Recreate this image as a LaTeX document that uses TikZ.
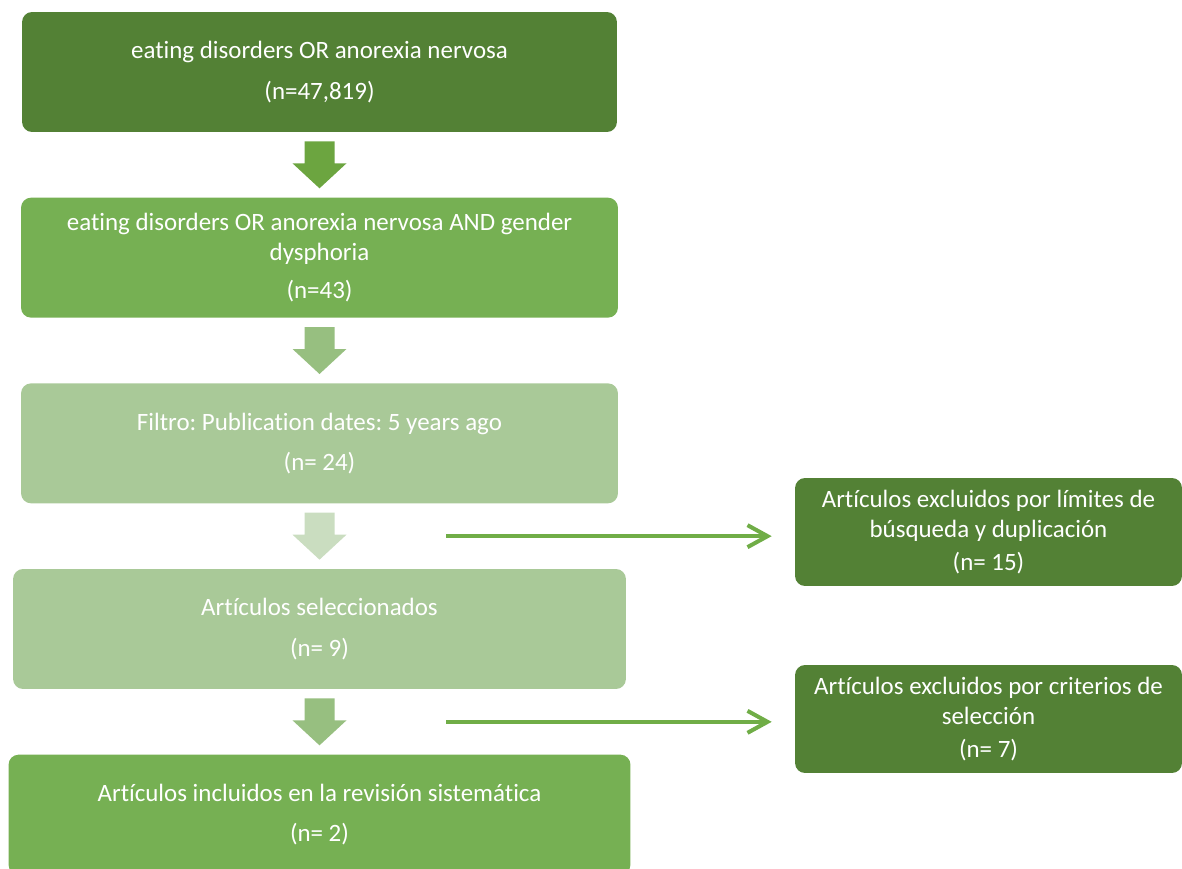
\documentclass[tikz,border=0pt]{standalone}
\usepackage{fontspec}
\setmainfont[Ligatures=NoCommon]{Carlito}
\usepackage{xcolor}
\usetikzlibrary{arrows.meta,positioning,calc}
\frenchspacing

\definecolor{darkgreen}{HTML}{538135}
\definecolor{midgreen}{HTML}{76B053}
\definecolor{palegreen}{HTML}{A9C998}
\definecolor{arrowA}{HTML}{6CA540}
\definecolor{arrowB}{HTML}{97BF80}
\definecolor{arrowC}{HTML}{CADDC0}
\definecolor{linegreen}{HTML}{70AD47}

\tikzset{
    blockarrow/.pic={
        \fill[pic actions] (-15,-23.5) -- (15,-23.5) -- (15,-1.5) -- (27,-1.5) -- (0,23.5) -- (-27,-1.5) -- (-15,-1.5) -- cycle;
    }
}

\begin{document}
\begin{tikzpicture}[
        x=0.02cm, y=-0.02cm,
        node distance=1.3cm,
        box/.style={rectangle, rounded corners=0.2cm, minimum height=2.4cm, text centered, align=center, text=white, font=\fontsize{14.2}{17}\selectfont},
        sidebox/.style={box, fill=darkgreen, minimum width=7.74cm, minimum height=2.16cm},
        arrow/.style={-{Straight Barb[length=4mm,width=4.4mm]}, line width=2.3pt, draw=linegreen, shorten >=0.46cm}
    ]
        \useasboundingbox (0,0) rectangle (1182,868);

        % Search steps
        \node[box, fill=darkgreen, minimum width=11.9cm] (search) at (319.5,72) {eating disorders OR anorexia nervosa\\[6pt](n=47,819)};
        \node[box, fill=midgreen, minimum width=11.94cm, below=of search] (gender) {eating disorders OR anorexia nervosa AND gender\\dysphoria\\[5pt](n=43)};
        \node[box, fill=palegreen, minimum width=11.94cm, below=of gender] (dates) {Filtro: Publication dates: 5 years ago\\[6pt](n= 24)};
        \node[box, fill=palegreen, minimum width=12.26cm, below=of dates] (selected) {Artículos seleccionados\\[6pt](n= 9)};
        \node[box, fill=midgreen, minimum width=12.44cm, below=of selected] (included) {Artículos incluidos en la revisión sistemática\\[6pt](n= 2)};

        % Excluded
        \node[sidebox] (limits) at (988.5,532) {Artículos excluidos por límites de\\búsqueda y duplicación\\[1.5pt](n= 15)};
        \node[sidebox] (criteria) at (988.5,719) {Artículos excluidos por criterios de\\selección\\[1.5pt](n= 7)};

        % Block arrows
        \coordinate (a1) at ($(search.south)!0.5!(gender.north)$);
        \coordinate (a2) at ($(gender.south)!0.5!(dates.north)$);
        \coordinate (a3) at ($(dates.south)!0.5!(selected.north)$);
        \coordinate (a4) at ($(selected.south)!0.5!(included.north)$);
        \pic[fill=arrowA] at (a1) {blockarrow};
        \pic[fill=arrowB] at (a2) {blockarrow};
        \pic[fill=arrowC] at (a3) {blockarrow};
        \pic[fill=arrowB] at (a4) {blockarrow};

        % Exclusion arrows
        \coordinate[right=2.54cm of a3] (x1);
        \coordinate[right=2.54cm of a4] (x2);
        \draw[arrow] (x1) -- (x1 -| limits.west);
        \draw[arrow] (x2) -- (x2 -| criteria.west);
    \end{tikzpicture}
\end{document}
